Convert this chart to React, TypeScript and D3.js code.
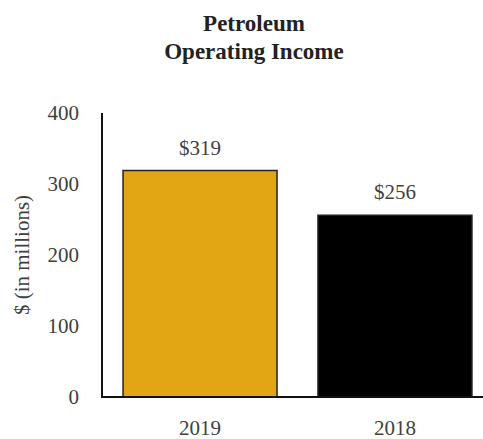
import React from "react";
import * as d3 from "d3";

const categories = ["2019", "2018"];
const values = [319, 256];
const valueLabels = ["$319", "$256"];
const barColors = ["#E2A614", "#000000"];
const yTicks = [0, 100, 200, 300, 400];
const titleLines = ["Petroleum", "Operating Income"];
const yTitle = "$ (in millions)";

const W = 483;
const H = 439;
const FONT = "'Liberation Serif', 'Times New Roman', serif";

export default function App() {
  const x = d3
    .scaleBand<string>()
    .domain(categories)
    .range([102, 493])
    .paddingInner(0.21)
    .paddingOuter(0.108);
  const y = d3.scaleLinear().domain([0, 400]).range([397, 113]);

  return (
    <svg
      width={W}
      height={H}
      style={{ position: "absolute", left: 0, top: 0, background: "#fff" }}
      fontFamily={FONT}
    >
      {titleLines.map((t, i) => (
        <text
          key={t}
          x={254}
          y={31 + i * 28}
          textAnchor="middle"
          fontWeight="bold"
          fontSize={23}
          fill="#222"
        >
          {t}
        </text>
      ))}
      <text
        transform={`translate(29,${(y(0) + y(400)) / 2}) rotate(-90)`}
        textAnchor="middle"
        fontSize={21}
        fill="#404040"
      >
        {yTitle}
      </text>
      {yTicks.map((t) => (
        <text
          key={t}
          x={79}
          y={y(t)}
          dy="0.35em"
          textAnchor="end"
          fontSize={21}
          fill="#404040"
        >
          {t}
        </text>
      ))}
      {categories.map((c, i) => (
        <g key={c}>
          <rect
            x={x(c)}
            y={y(values[i])}
            width={x.bandwidth()}
            height={y(0) - y(values[i])}
            fill={barColors[i]}
            stroke="#222"
            strokeWidth={1.5}
          />
          <text
            x={(x(c) as number) + x.bandwidth() / 2}
            y={y(values[i]) - 16}
            textAnchor="middle"
            fontSize={21}
            fill="#404040"
          >
            {valueLabels[i]}
          </text>
          <text
            x={(x(c) as number) + x.bandwidth() / 2}
            y={435}
            textAnchor="middle"
            fontSize={21}
            fill="#404040"
          >
            {c}
          </text>
        </g>
      ))}
      <line x1={102} x2={102} y1={113} y2={398} stroke="#111" strokeWidth={2} />
      <line x1={101} x2={W} y1={397} y2={397} stroke="#111" strokeWidth={2} />
    </svg>
  );
}
